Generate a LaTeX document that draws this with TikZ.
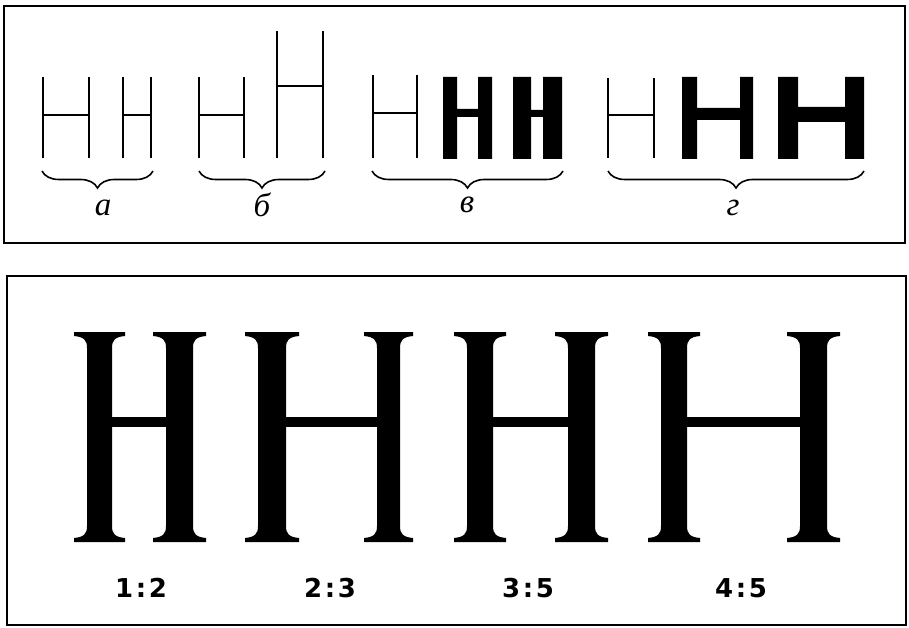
\documentclass[tikz,border=0pt]{standalone}
\usepackage{fontspec}
\setmainfont{Liberation Serif}
\newfontfamily\ratiofont[LetterSpace=10]{DejaVu Sans}
\usetikzlibrary{decorations.pathreplacing}

\tikzset{hpanel/.style={x=1pt,y=-1pt},
  frame/.style={line width=1.8pt},
  thinstroke/.style={line width=2pt},
  hbrace/.style={decorate,decoration={brace,amplitude=17pt,mirror},line width=1.6pt},
  letterlab/.style={font=\itshape\fontsize{33}{33}\selectfont,inner sep=0pt},
  ratiolab/.style={font=\ratiofont\bfseries\fontsize{26}{26}\selectfont,inner sep=0pt}}

% thin H: left x, right x, top y, bar y (foot at y=158)
\newcommand\thinH[4]{\draw[thinstroke] (#1,#3) -- (#1,158) (#2,#3) -- (#2,158) (#1,#4) -- (#2,#4);}
% bold H: stems [#1,#2] and [#3,#4], bar from #5 to #6
\newcommand\boldH[6]{\fill (#1,77) rectangle (#2,159) (#3,77) rectangle (#4,159) (#2,#5) rectangle (#3,#6);}
% serif stem of the big letters
\newcommand\bigstem[2]{\fill (#1-13,\htop) -- (#2+13,\htop) -- (#2+13,\htop+4)
  .. controls (#2+3,\htop+5) and (#2,\htop+8) .. (#2,\htop+16) -- (#2,\hbot-16)
  .. controls (#2,\hbot-8) and (#2+3,\hbot-5) .. (#2+13,\hbot-4) -- (#2+13,\hbot) -- (#1-13,\hbot) -- (#1-13,\hbot-4)
  .. controls (#1-3,\hbot-5) and (#1,\hbot-8) .. (#1,\hbot-16) -- (#1,\htop+16)
  .. controls (#1,\htop+8) and (#1-3,\htop+5) .. (#1-13,\htop+4) -- cycle;}

\begin{document}
\begin{tikzpicture}[hpanel]
    \useasboundingbox (0,0) rectangle (909,628);
    \def\htop{332}\def\hbot{542}
    % frames
    \draw[frame] (4,6) rectangle (905,243);
    \draw[frame] (7,276) rectangle (906,625);

    % upper panel
    \thinH{43}{89}{77}{115}
    \thinH{123}{151}{77}{115}
    \thinH{199}{244}{77}{115}
    \thinH{277}{323}{31}{86}
    \thinH{373}{417}{75}{113}
    \boldH{443}{457}{478}{492}{109}{117}
    \boldH{513}{531}{543}{562}{110}{117}
    \thinH{608}{654}{78}{115}
    \boldH{682}{697}{740}{753}{108}{120}
    \boldH{778}{798}{845}{864}{107}{122}

    \coordinate (a0) at (42,171);  \coordinate (a1) at (153,171);
    \coordinate (b0) at (199,171); \coordinate (b1) at (325,171);
    \coordinate (c0) at (372,171); \coordinate (c1) at (563,171);
    \coordinate (d0) at (608,171); \coordinate (d1) at (864,171);
    \foreach \g in {a,b,c,d} \draw[hbrace] (\g0) -- (\g1);
    \node[letterlab] (la) at (103,208) {а};
    \node[letterlab] (lb) at (262,205) {б};
    \node[letterlab] (lc) at (467,205) {в};
    \node[letterlab] (ld) at (733,208) {г};

    % lower panel
    \foreach \l/\r in {87/112,166/193,258/286,377/400,467/493,568/595,661/687,800/827}
        \bigstem{\l}{\r}
    \foreach \l/\r in {112/166,286/377,493/568,687/800}
        \fill (\l,417) rectangle (\r,427);
    \node[ratiolab] (r1) at (141,588) {1:2};
    \node[ratiolab] (r2) at (330,588) {2:3};
    \node[ratiolab] (r3) at (528,588) {3:5};
    \node[ratiolab] (r4) at (741,588) {4:5};
\end{tikzpicture}
\end{document}
